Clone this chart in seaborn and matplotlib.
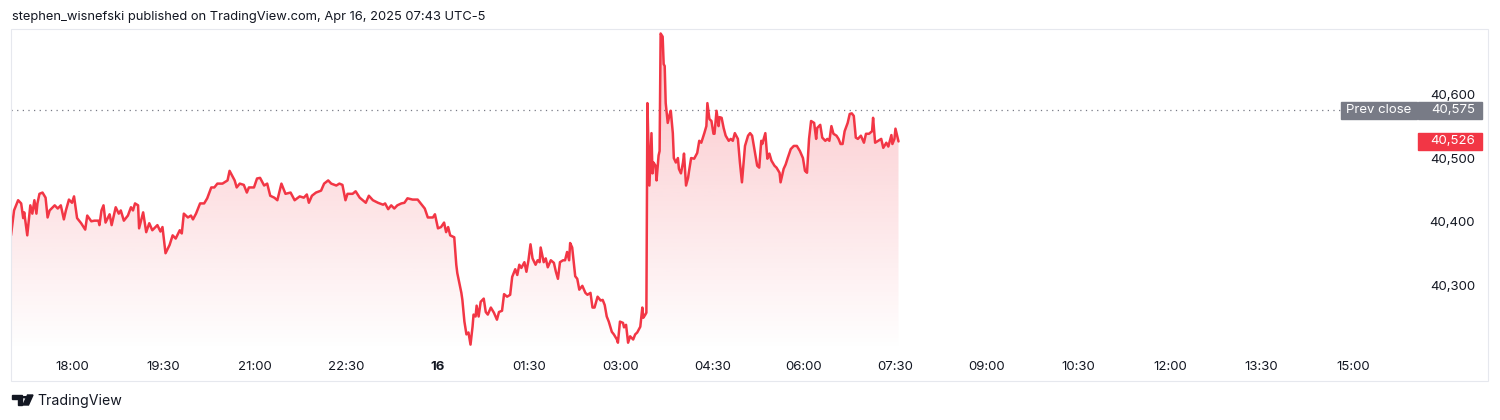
import numpy as np
import pandas as pd
import matplotlib.pyplot as plt
import matplotlib as mpl
import matplotlib.dates as mdates
import matplotlib.transforms as mtransforms
from matplotlib.patches import Rectangle, Circle, Polygon
import seaborn as sns

# ------------------------
# Data
# ------------------------
session_start = '2025-04-15 17:00'
# minutes since session open (17:00)
minutes = [
    0, 3, 7, 10, 12, 13, 16, 19, 21, 23, 25, 26, 28, 31, 34, 36, 38, 43, 46, 49,
    52, 54, 57, 60, 62, 65, 69, 73, 75, 79, 82, 86, 87, 89, 91, 93, 97, 99, 103, 106,
    108, 111, 115, 118, 120, 122, 125, 126, 130, 133, 136, 139, 144, 147, 149, 152, 156, 159, 162, 166,
    168, 170, 174, 177, 179, 182, 186, 190, 193, 197, 200, 203, 208, 213, 215, 220, 222, 225, 229, 232,
    234, 239, 242, 245, 249, 252, 255, 259, 262, 266, 270, 275, 279, 284, 288, 291, 293, 296, 300, 305,
    308, 312, 315, 320, 323, 326, 329, 331, 336, 339, 343, 346, 349, 352, 356, 361, 366, 368, 371, 374,
    377, 380, 384, 387, 390, 395, 400, 403, 407, 410, 415, 417, 420, 423, 426, 428, 430, 432, 436, 438,
    439, 443, 444, 446, 448, 450, 452, 454, 455, 457, 458, 460, 462, 465, 467, 469, 472, 475, 478, 480,
    483, 485, 488, 491, 493, 496, 498, 500, 502, 505, 507, 509, 511, 513, 516, 518, 520, 521, 524, 526,
    528, 531, 534, 536, 538, 540, 543, 545, 547, 549, 550, 552, 555, 557, 559, 562, 565, 567, 570, 572,
    574, 577, 580, 582, 584, 586, 588, 591, 593, 596, 597, 599, 602, 603, 605, 607, 609, 612, 614, 616,
    619, 621, 622, 624, 625, 626, 628, 630, 631, 632, 634, 635, 637, 638, 639, 641, 642, 643, 644, 646,
    648, 649, 651, 652, 654, 656, 657, 659, 661, 662, 664, 666, 667, 669, 672, 675, 677, 679, 682, 684,
    685, 687, 689, 691, 692, 694, 696, 697, 699, 701, 703, 706, 708, 710, 712, 715, 717, 719, 721, 722,
    725, 727, 729, 732, 734, 736, 738, 739, 742, 744, 746, 748, 751, 753, 756, 757, 760, 762, 764, 767,
    770, 773, 776, 779, 781, 783, 785, 787, 790, 792, 793, 796, 798, 801, 803, 805, 807, 809, 812, 814,
    816, 818, 820, 823, 825, 827, 829, 831, 833, 836, 839, 841, 844, 847, 848, 850, 853, 856, 858, 861,
    863, 866, 867, 869, 870, 873]
prices = [
    40379, 40418, 40434, 40429, 40406, 40415, 40379, 40426, 40413, 40434, 40413, 40429, 40444, 40446, 40438, 40407, 40418, 40426, 40421, 40426,
    40404, 40418, 40435, 40430, 40440, 40406, 40398, 40388, 40410, 40401, 40402, 40402, 40395, 40418, 40426, 40399, 40412, 40395, 40423, 40413,
    40418, 40402, 40410, 40423, 40418, 40429, 40426, 40390, 40415, 40384, 40398, 40387, 40395, 40385, 40392, 40351, 40364, 40379, 40374, 40387,
    40382, 40413, 40407, 40410, 40404, 40413, 40429, 40429, 40437, 40454, 40454, 40460, 40460, 40465, 40480, 40465, 40454, 40460, 40458, 40446,
    40454, 40454, 40468, 40469, 40457, 40460, 40441, 40438, 40434, 40460, 40444, 40446, 40434, 40440, 40438, 40443, 40430, 40441, 40446, 40449,
    40460, 40465, 40460, 40457, 40460, 40458, 40434, 40444, 40444, 40448, 40438, 40434, 40430, 40441, 40434, 40430, 40427, 40429, 40420, 40426,
    40421, 40426, 40429, 40430, 40437, 40435, 40435, 40429, 40421, 40407, 40407, 40412, 40390, 40392, 40399, 40384, 40392, 40379, 40376, 40333,
    40320, 40289, 40278, 40244, 40224, 40227, 40208, 40236, 40255, 40252, 40269, 40252, 40275, 40280, 40259, 40255, 40266, 40258, 40247, 40259,
    40261, 40287, 40283, 40286, 40314, 40326, 40317, 40333, 40328, 40337, 40322, 40340, 40365, 40343, 40333, 40340, 40337, 40360, 40337, 40343,
    40329, 40340, 40336, 40322, 40311, 40337, 40340, 40340, 40353, 40340, 40367, 40360, 40315, 40311, 40294, 40300, 40289, 40286, 40289, 40266,
    40266, 40283, 40277, 40278, 40270, 40252, 40244, 40228, 40224, 40216, 40211, 40244, 40242, 40235, 40239, 40211, 40221, 40216, 40224, 40227,
    40236, 40266, 40250, 40255, 40258, 40586, 40457, 40539, 40476, 40493, 40488, 40465, 40504, 40511, 40695, 40690, 40647, 40644, 40586, 40555,
    40569, 40574, 40539, 40500, 40493, 40500, 40483, 40476, 40493, 40507, 40457, 40469, 40480, 40500, 40499, 40508, 40527, 40524, 40539, 40550,
    40586, 40561, 40558, 40538, 40538, 40574, 40550, 40564, 40563, 40547, 40535, 40527, 40530, 40527, 40539, 40530, 40493, 40462, 40499, 40519,
    40535, 40539, 40535, 40507, 40488, 40485, 40527, 40522, 40539, 40499, 40507, 40496, 40488, 40485, 40477, 40462, 40483, 40490, 40500, 40514,
    40519, 40519, 40511, 40500, 40480, 40477, 40530, 40558, 40555, 40530, 40547, 40552, 40532, 40527, 40530, 40527, 40550, 40538, 40535, 40530,
    40522, 40522, 40542, 40555, 40569, 40570, 40566, 40532, 40530, 40535, 40524, 40538, 40538, 40542, 40563, 40524, 40527, 40530, 40516, 40524,
    40518, 40536, 40522, 40530, 40546, 40526]
prev_close = 40575
y_ticks = [40300, 40400, 40500, 40600]
x_tick_labels = ['18:00', '19:30', '21:00', '22:30', '16', '01:30', '03:00', '04:30',
                 '06:00', '07:30', '09:00', '10:30', '12:00', '13:30', '15:00']
title = 'stephen_wisnefski published on TradingView.com, Apr 16, 2025 07:43 UTC-5'

red = '#f23645'
grey = '#787b86'
ink = '#131722'

# ------------------------
# Style
# ------------------------
sns.set_style('white')
plt.rcParams['font.family'] = ['Inter', 'DejaVu Sans']

t0 = pd.Timestamp(session_start)
df = pd.DataFrame({'time': t0 + pd.to_timedelta(minutes, unit='m'),
                   'price': prices})

W, H = 1500, 420
fig = plt.figure(figsize=(15, 4.2), dpi=100)


def fx(px):
    return px / W


def fy(py):
    return 1 - py / H


ax = fig.add_axes([fx(11), fy(351), fx(1418) - fx(11), fy(29) - fy(351)])

# line
sns.lineplot(data=df, x='time', y='price', ax=ax, color=red, lw=1.8, zorder=3)

# gradient area under the line
y_bot = 40198
fill = ax.fill_between(df['time'], df['price'], y_bot, color='none', lw=0)
t_num = mdates.date2num(df['time'])
grad = np.zeros((256, 1, 4))
grad[..., :3] = mpl.colors.to_rgb(red)
grad[..., 3] = np.linspace(0.3, 0.0, 256)[:, None]
im = ax.imshow(grad, aspect='auto', origin='upper', zorder=2,
               extent=[t_num.min(), t_num.max(), y_bot, df['price'].max()])
im.set_clip_path(fill.get_paths()[0], transform=ax.transData)

# axes limits
ax.set_xlim(t0, t0 + pd.Timedelta(minutes=1384))
ax.set_ylim(40198, 40702)
ax.set_xlabel('')
ax.set_ylabel('')
for s in ax.spines.values():
    s.set_visible(False)

# x ticks
tick_times = t0 + pd.to_timedelta(60 + 90 * np.arange(len(x_tick_labels)), unit='m')
ax.set_xticks(tick_times)
ax.set_xticklabels(x_tick_labels)
ax.tick_params(axis='x', length=0, pad=7.5, labelsize=9.5, labelcolor=ink)
ax.get_xticklabels()[4].set_fontweight('bold')

# y ticks on the right
ax.yaxis.tick_right()
ax.set_yticks(y_ticks)
ax.set_yticklabels([f'{v:,}' for v in y_ticks])
ax.tick_params(axis='y', length=0, pad=41, labelsize=9.5, labelcolor=ink)
for lab in ax.get_yticklabels():
    lab.set_horizontalalignment('right')

# previous close dotted line and labels
ax.axhline(prev_close, xmin=0, xmax=(1341 - 11) / (1418 - 11), color=grey,
           lw=0.9, linestyle=(0, (1, 3.5)), zorder=1)
trans = mtransforms.blended_transform_factory(fig.transFigure, ax.transData)
ax.add_patch(Rectangle((fx(1341), prev_close - 13.5), fx(1417) - fx(1341), 27,
                       transform=trans, color=grey, clip_on=False, zorder=5))
ax.add_patch(Rectangle((fx(1418), prev_close - 13.5), fx(1482) - fx(1418), 27,
                       transform=trans, color=grey, clip_on=False, zorder=5))
ax.text(fx(1379), prev_close, 'Prev close', transform=trans, ha='center',
        va='center', color='white', fontsize=9.5, zorder=6, clip_on=False)
ax.text(fx(1475), prev_close, f'{prev_close:,}', transform=trans, ha='right',
        va='center', color='white', fontsize=9.5, zorder=6, clip_on=False)

# last price label
last = prices[-1]
ax.add_patch(Rectangle((fx(1418), last - 14), fx(1482) - fx(1418), 28,
                       transform=trans, color=red, clip_on=False, zorder=5))
ax.text(fx(1475), last, f'{last:,}', transform=trans, ha='right', va='center',
        color='white', fontsize=9.5, zorder=6, clip_on=False)

# ------------------------
# Frame, title, footer
# ------------------------
fig.add_artist(Rectangle((fx(11), fy(381)), fx(1488) - fx(11), fy(29) - fy(381),
                         transform=fig.transFigure, fill=False,
                         edgecolor='#e6e8ee', lw=0.8))
fig.text(fx(12), fy(17), title, ha='left', va='center', fontsize=9.3, color=ink)

# TradingView logo
logo_t = [(12, 395), (22, 395), (22, 405), (17.5, 405), (17.5, 399), (12, 399)]
logo_v = [(27.5, 395), (33, 395), (28.5, 405), (23, 405)]
for pts in (logo_t, logo_v):
    fig.add_artist(Polygon([(fx(a), fy(b)) for a, b in pts], closed=True,
                           transform=fig.transFigure, color=ink))
fig.add_artist(Circle((fx(25), fy(397.2)), radius=2 / W,
                      transform=fig.transFigure, color=ink))
fig.text(fx(37), fy(400.5), 'TradingView', ha='left', va='center',
         fontsize=10.2, color=ink)

fig.savefig('out.png', dpi=100)
plt.close('all')
